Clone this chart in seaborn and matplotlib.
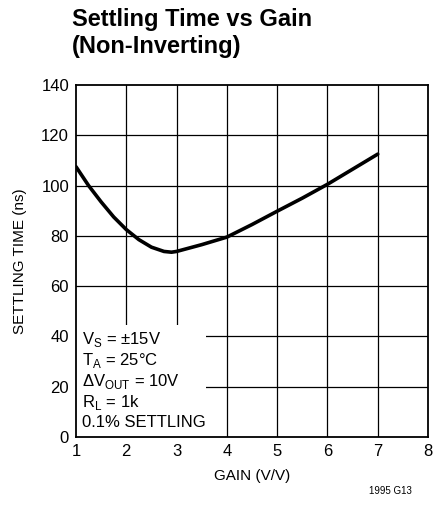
import numpy as np
import pandas as pd
import matplotlib
matplotlib.use("Agg")
import matplotlib.pyplot as plt
import seaborn as sns

# values
gain = [1.0, 1.25, 1.5, 1.75, 2.0, 2.25, 2.5, 2.75, 2.9, 3.0, 3.5, 4.0, 4.5, 5.0, 5.5, 6.0, 6.5, 7.0]
settling_ns = [107.5, 100.0, 93.5, 87.5, 82.5, 78.5, 75.5, 73.8, 73.5, 73.8, 76.5, 79.5, 84.5, 89.8, 95.0, 100.5, 106.5, 112.5]

x_ticks = [1, 2, 3, 4, 5, 6, 7, 8]
y_ticks = [0, 20, 40, 60, 80, 100, 120, 140]

df = pd.DataFrame({"gain": gain, "settling": settling_ns})

sns.set_style("white", {"text.color": "black", "axes.labelcolor": "black",
                        "xtick.color": "black", "ytick.color": "black"})
plt.rcParams['font.family'] = ['Liberation Sans', 'DejaVu Sans']

fig = plt.figure(figsize=(4.33, 5.23), dpi=100)
ax = fig.add_axes([76 / 433, 86 / 523, 352 / 433, 352 / 523])

# grid
for xv in x_ticks[1:-1]:
    ax.axvline(xv, color="black", lw=0.9, zorder=1)
for yv in y_ticks[1:-1]:
    ax.axhline(yv, color="black", lw=0.9, zorder=1)

# white box behind the conditions text
ax.fill_between([1, 3.58], 0, 44.5, color="white", zorder=2, lw=0)

sns.lineplot(data=df, x="gain", y="settling", ax=ax, color="black", lw=2.6, zorder=3)

ax.set_xlim(1, 8)
ax.set_ylim(0, 140)
ax.set_xticks(x_ticks)
ax.set_yticks(y_ticks)
ax.tick_params(labelsize=12, length=0, pad=5)
for s in ax.spines.values():
    s.set_color("black")
    s.set_linewidth(1.3)
    s.set_zorder(4)
ax.set_xlabel("GAIN (V/V)", fontsize=11, labelpad=7)
ax.set_ylabel("SETTLING TIME (ns)", fontsize=11, labelpad=10)

cond = [r"V$_\mathregular{S}$ = ±15V",
        r"T$_\mathregular{A}$ = 25°C",
        r"ΔV$_\mathregular{OUT}$ = 10V",
        r"R$_\mathregular{L}$ = 1k",
        "0.1% SETTLING"]
for i, t in enumerate(cond):
    ax.text(1.12, 38.6 - i * 8.25, t, fontsize=12, va="center", ha="left", zorder=5)

fig.text(72 / 433, 1 - 8 / 523, "Settling Time vs Gain\n(Non-Inverting)",
         fontsize=17, fontweight="bold", ha="left", va="top", linespacing=1.25)
fig.text(412 / 433, 1 - 494 / 523, "1995 G13", fontsize=7, ha="right")

fig.savefig("out.png", dpi=100)
